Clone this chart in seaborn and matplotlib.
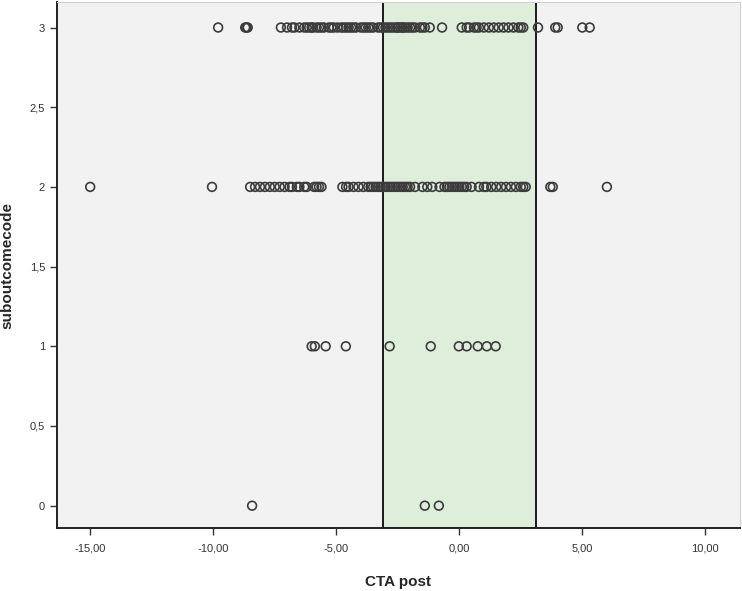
import numpy as np
import pandas as pd
import matplotlib
matplotlib.use("Agg")
import matplotlib.pyplot as plt
from matplotlib.ticker import FuncFormatter
import seaborn as sns

# ---- data ----
cta_row3 = [-9.8, -8.7, -8.65, -8.6,
            -7.25, -7.0, -6.8, -6.7, -6.5, -6.3, -6.2, -6.1, -6.0, -5.95, -5.8, -5.7,
            -5.6, -5.5, -5.3, -5.2, -5.1, -4.95, -4.8, -4.7, -4.6, -4.5, -4.4, -4.3,
            -4.2, -4.0, -3.9, -3.8, -3.7, -3.6, -3.5, -3.3, -3.2, -3.1, -3.0, -2.9,
            -2.8, -2.7, -2.6, -2.5, -2.5, -2.4, -2.3, -2.3, -2.2, -2.1, -2.0, -1.9,
            -1.8, -1.6, -1.5, -1.4, -1.2, -0.7,
            0.1, 0.3, 0.4, 0.6, 0.7, 0.8, 1.0, 1.2, 1.4, 1.6, 1.8,
            2.0, 2.2, 2.4, 2.5, 2.6, 3.2, 3.9, 4.0, 5.0, 5.3]
cta_row2 = [-15.0, -10.05,
            -8.5, -8.3, -8.1, -7.9, -7.7, -7.5, -7.3, -7.1, -6.9, -6.8, -6.6, -6.5,
            -6.3, -6.2, -5.9, -5.8, -5.7, -5.6,
            -4.75, -4.6, -4.5, -4.3, -4.1, -3.9, -3.7, -3.6, -3.5, -3.4, -3.3, -3.2,
            -3.1, -3.0, -2.9, -2.8, -2.7, -2.6, -2.5, -2.4, -2.3, -2.2, -2.1, -2.0,
            -1.8, -1.5, -1.3, -1.1, -0.8, -0.6, -0.5, -0.4, -0.3, -0.2, -0.1, 0.0,
            0.1, 0.2, 0.3, 0.5, 0.8, 1.0, 1.1, 1.3, 1.5, 1.7, 1.9, 2.1, 2.3, 2.5,
            2.6, 2.7, 3.7, 3.8, 6.0]
cta_row1 = [-6.0, -5.87, -5.43, -4.61, -2.83, -1.16, -0.02, 0.3, 0.75, 1.12, 1.48]
cta_row0 = [-8.42, -1.40, -0.83]
band = [-3.12, 3.12]

x_ticks = [-15, -10, -5, 0, 5, 10]
y_ticks = [0, 0.5, 1, 1.5, 2, 2.5, 3]

df = pd.DataFrame({
    "CTA post": cta_row3 + cta_row2 + cta_row1 + cta_row0,
    "suboutcomecode": [3] * len(cta_row3) + [2] * len(cta_row2)
                      + [1] * len(cta_row1) + [0] * len(cta_row0),
})

sns.set_style("ticks")
plt.rcParams["font.family"] = ["Liberation Sans", "DejaVu Sans"]

fig = plt.figure(figsize=(7.42, 5.91), dpi=100)
fig.patch.set_facecolor("white")
ax = fig.add_axes([0.0768, 0.1066, 0.9202, 0.8900])
ax.set_facecolor("#f2f2f2")

ax.axvspan(band[0], band[1], facecolor="#dfeedb", edgecolor="#1a1a1a",
           linewidth=1.4, zorder=1)

sns.scatterplot(data=df, x="CTA post", y="suboutcomecode", ax=ax,
                marker="o", s=40, facecolors="none", edgecolor="#3c3c3c",
                linewidth=1.2, zorder=3)

ax.set_xlim(-16.35, 11.4)
ax.set_ylim(-0.14, 3.16)
ax.set_xticks(x_ticks)
ax.set_yticks(y_ticks)
ax.xaxis.set_major_formatter(FuncFormatter(lambda v, p: f"{v:.2f}".replace(".", ",")))
ax.yaxis.set_major_formatter(FuncFormatter(lambda v, p: f"{v:g}".replace(".", ",")))
ax.tick_params(axis="both", direction="out", length=5, width=1, color="#333333",
               labelsize=8, labelcolor="#333333")
ax.tick_params(axis="x", pad=6)

for side in ["left", "bottom"]:
    ax.spines[side].set_color("#222222")
    ax.spines[side].set_linewidth(1.4)
for side in ["top", "right"]:
    ax.spines[side].set_visible(True)
    ax.spines[side].set_color("#d0d0d0")
    ax.spines[side].set_linewidth(0.8)

ax.set_xlabel("CTA post", fontsize=11, fontweight="bold", labelpad=16)
ax.set_ylabel("suboutcomecode", fontsize=11, fontweight="bold")
ax.yaxis.set_label_coords(-0.062, 0.5)

fig.savefig("out.png", dpi=100)
